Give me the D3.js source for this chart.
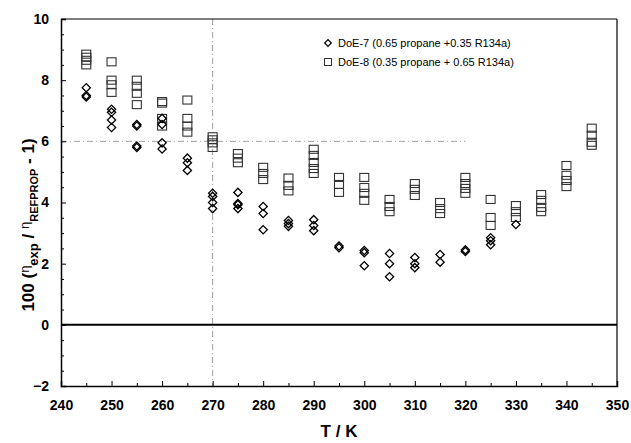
<!DOCTYPE html>
<html>
<head>
<meta charset="utf-8">
<script src="https://cdn.jsdelivr.net/npm/d3@7"></script>
<style>
    body { margin: 0; background: #fff; }
    text { font-family: "Liberation Sans", Arial, sans-serif; }
</style>
</head>
<body>
<svg id="drawing_region"></svg>
<script>
// DoE-7 (diamonds): temperature and the deviations measured at it
const doe7_temps = [245, 250, 255, 260, 265, 270, 275, 280, 285, 290, 295, 300, 305, 310, 315, 320, 325, 330];
const doe7_values = [
    [7.75, 7.5, 7.45],
    [7.05, 6.95, 6.7, 6.45],
    [6.55, 6.5, 5.85, 5.8],
    [6.75, 6.55, 5.95, 5.75],
    [5.45, 5.3, 5.05],
    [4.3, 4.2, 4.0, 3.8],
    [4.33, 3.97, 3.93, 3.8],
    [3.87, 3.64, 3.11],
    [3.41, 3.31, 3.22],
    [3.44, 3.25, 3.08],
    [2.58, 2.52],
    [2.43, 2.36, 1.93],
    [2.33, 2.0, 1.57],
    [2.2, 2.0, 1.87],
    [2.3, 2.05],
    [2.45, 2.4],
    [2.85, 2.75, 2.62],
    [3.28]
];

// DoE-8 (squares)
const doe8_temps = [245, 250, 255, 260, 265, 270, 275, 280, 285, 290, 295, 300, 305, 310, 315, 320, 325, 330, 335, 340, 345];
const doe8_values = [
    [8.85, 8.75, 8.65, 8.5],
    [8.6, 8.0, 7.85, 7.6],
    [8.0, 7.8, 7.57, 7.2],
    [7.3, 7.25, 6.75, 6.5],
    [7.35, 6.75, 6.5, 6.3],
    [6.15, 6.05, 5.95, 5.8],
    [5.6, 5.45, 5.3],
    [5.15, 4.95, 4.75],
    [4.8, 4.56, 4.38],
    [5.74, 5.54, 5.31, 5.11, 4.95],
    [4.82, 4.59, 4.33],
    [4.82, 4.49, 4.3, 4.07],
    [4.1, 3.87, 3.7],
    [4.62, 4.43, 4.23],
    [4.0, 3.8, 3.64],
    [4.82, 4.62, 4.46, 4.3],
    [4.1, 3.51, 3.25],
    [3.9, 3.7, 3.51],
    [4.26, 4.07, 3.84, 3.7],
    [5.21, 4.89, 4.72, 4.52],
    [6.43, 6.2, 5.97, 5.87]
];

const x_ticks = [240, 250, 260, 270, 280, 290, 300, 310, 320, 330, 340, 350];
const y_ticks = [-2, 0, 2, 4, 6, 8, 10];
const legend_labels = ["DoE-7 (0.65 propane +0.35 R134a)", "DoE-8 (0.35 propane + 0.65 R134a)"];

const flatten = (temps, values) => temps.flatMap((t, i) => values[i].map(v => ({ t: t, v: v })));
const doe7 = flatten(doe7_temps, doe7_values);
const doe8 = flatten(doe8_temps, doe8_values);

const width = 631, height = 443;
const margin = { top: 19, right: 14, bottom: 57, left: 61 };
const inner_width = width - margin.left - margin.right;
const inner_height = height - margin.top - margin.bottom;

const svg = d3.select('#drawing_region')
    .attr('width', width)
    .attr('height', height);

const chart = svg.append('g')
    .attr('transform', `translate(${margin.left}, ${margin.top})`);

const xscale = d3.scaleLinear().domain([240, 350]).range([0, inner_width]);
const yscale = d3.scaleLinear().domain([-2, 10]).range([inner_height, 0]);

// faint dash-dot reference lines
chart.append('line')
    .attr('x1', xscale(270)).attr('x2', xscale(270))
    .attr('y1', 0).attr('y2', inner_height)
    .attr('stroke', '#888').attr('stroke-width', 0.8)
    .attr('stroke-dasharray', '6,3,1,3');
chart.append('line')
    .attr('x1', 0).attr('x2', xscale(320))
    .attr('y1', yscale(6)).attr('y2', yscale(6))
    .attr('stroke', '#888').attr('stroke-width', 0.8)
    .attr('stroke-dasharray', '6,3,1,3');

// minor ticks (inward)
chart.append('g')
    .attr('transform', `translate(0, ${inner_height})`)
    .call(d3.axisBottom(xscale).tickValues(d3.range(245, 350, 10)).tickSize(-3).tickFormat(''))
    .call(g => g.select('.domain').remove());
chart.append('g')
    .call(d3.axisLeft(yscale).tickValues(d3.range(-1.5, 10, 0.5).filter(d => d % 2 !== 0)).tickSize(-3).tickFormat(''))
    .call(g => g.select('.domain').remove());

// major ticks with labels
const xaxis = chart.append('g')
    .attr('transform', `translate(0, ${inner_height})`)
    .call(d3.axisBottom(xscale).tickValues(x_ticks).tickSize(-5).tickPadding(14).tickFormat(d3.format('d')));
const yaxis = chart.append('g')
    .call(d3.axisLeft(yscale).tickValues(y_ticks).tickSize(-5).tickPadding(12).tickFormat(d3.format('d')));

[xaxis, yaxis].forEach(a => {
    a.selectAll('text')
        .attr('fill', '#000')
        .attr('font-size', '14px')
        .attr('font-weight', 'bold')
        .attr('font-family', '"Liberation Sans", Arial, sans-serif');
    a.selectAll('.tick line').attr('stroke', '#000');
    a.select('.domain').attr('stroke', '#000').attr('stroke-width', 1.5);
});

// frame: top and right sides
chart.append('line')
    .attr('x1', 0).attr('x2', inner_width).attr('y1', 0).attr('y2', 0)
    .attr('stroke', '#000').attr('stroke-width', 1.2);
chart.append('line')
    .attr('x1', inner_width).attr('x2', inner_width).attr('y1', 0).attr('y2', inner_height)
    .attr('stroke', '#000').attr('stroke-width', 1.2);

// zero line
chart.append('line')
    .attr('x1', 0).attr('x2', inner_width)
    .attr('y1', yscale(0)).attr('y2', yscale(0))
    .attr('stroke', '#000').attr('stroke-width', 2);

// markers
const diamond = d3.symbol().type(d3.symbolSquare).size(34);

chart.append('g').selectAll('rect')
    .data(doe8)
    .enter()
    .append('rect')
    .attr('x', d => xscale(d.t) - 4.5)
    .attr('y', d => yscale(d.v) - 4)
    .attr('width', 9)
    .attr('height', 8)
    .attr('fill', 'none')
    .attr('stroke', '#333')
    .attr('stroke-width', 1.1);

chart.append('g').selectAll('path')
    .data(doe7)
    .enter()
    .append('path')
    .attr('d', diamond)
    .attr('transform', d => `translate(${xscale(d.t)}, ${yscale(d.v)}) rotate(45)`)
    .attr('fill', 'none')
    .attr('stroke', '#000')
    .attr('stroke-width', 1.3);

// legend
const legend = svg.append('g').attr('transform', 'translate(328, 43)');
legend.append('path')
    .attr('d', d3.symbol().type(d3.symbolSquare).size(22))
    .attr('transform', 'rotate(45)')
    .attr('fill', 'none').attr('stroke', '#000').attr('stroke-width', 1.2);
legend.append('rect')
    .attr('x', -3.5).attr('y', 19 - 3.5).attr('width', 7).attr('height', 7)
    .attr('fill', 'none').attr('stroke', '#333').attr('stroke-width', 1);
legend.selectAll('text')
    .data(legend_labels)
    .enter()
    .append('text')
    .attr('x', 10)
    .attr('y', (d, i) => i * 19)
    .attr('dy', '4px')
    .attr('font-size', '11px')
    .attr('fill', '#000')
    .text(d => d);

// axis titles
svg.append('text')
    .attr('x', margin.left + inner_width / 2)
    .attr('y', 437)
    .attr('text-anchor', 'middle')
    .attr('font-size', '17px')
    .attr('font-weight', 'bold')
    .text('T / K');

const ytitle = svg.append('text')
    .attr('transform', 'translate(34, 225) rotate(-90)')
    .attr('text-anchor', 'middle')
    .attr('font-size', '17px')
    .attr('font-weight', 'bold');
ytitle.append('tspan').text('100 (');
ytitle.append('tspan').attr('font-size', '13px').attr('font-weight', 'normal').attr('dy', '-5').text('η');
ytitle.append('tspan').attr('font-size', '13px').attr('dy', '9').text('exp');
ytitle.append('tspan').attr('dy', '-4').text(' / ');
ytitle.append('tspan').attr('font-size', '13px').attr('font-weight', 'normal').attr('dy', '-5').text('η');
ytitle.append('tspan').attr('font-size', '11px').attr('dy', '9').text('REFPROP');
ytitle.append('tspan').attr('dy', '-4').text(' - 1)');
</script>
</body>
</html>
